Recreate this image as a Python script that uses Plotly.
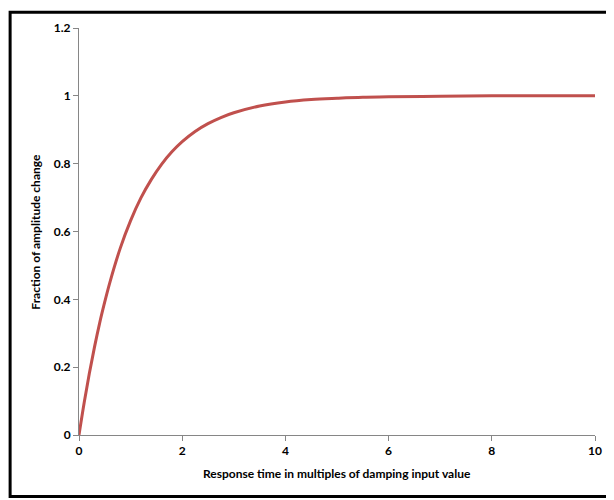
import plotly.graph_objects as go

# response time (multiples of damping input) vs fraction of amplitude change
response_time = [0, 0.1, 0.2, 0.3, 0.4, 0.5, 0.6, 0.8, 1.0, 1.2, 1.4, 1.6, 1.8, 2.0,
                 2.25, 2.5, 2.75, 3.0, 3.5, 4.0, 4.5, 5.0, 5.5, 6.0, 7.0, 8.0, 9.0, 10.0]
amplitude_fraction = [0, 0.095, 0.181, 0.259, 0.33, 0.393, 0.451, 0.551, 0.632, 0.699, 0.753,
                      0.798, 0.835, 0.865, 0.895, 0.918, 0.936, 0.95, 0.97, 0.982, 0.989,
                      0.993, 0.996, 0.997, 0.999, 1.0, 1.0, 1.0]

x_ticks = [0, 2, 4, 6, 8, 10]
y_ticks = [0, 0.2, 0.4, 0.6, 0.8, 1, 1.2]
y_tick_text = ["0", "0.2", "0.4", "0.6", "0.8", "1", "1.2"]

font = "Lato"

fig = go.Figure()
fig.add_trace(go.Scatter(x=response_time, y=amplitude_fraction, mode="lines",
                         line=dict(color="#C0504D", width=3, shape="spline"),
                         hoverinfo="skip", showlegend=False))

axis_common = dict(showgrid=False, zeroline=False, showline=True, linecolor="#868686",
                   linewidth=1, ticks="outside", ticklen=5, tickcolor="#868686",
                   tickfont=dict(family=font, size=12, color="black", weight="bold"))

# outer frame: left, top and bottom edges only (right edge is cut off in the original)
frame = dict(color="black", width=3)
x_left, x_right, y_bottom, y_top = -0.1335, 1.2, -0.151, 1.039

# page body adds an 8px offset, so the figure is 8px smaller on each side
fig.update_layout(
    width=606, height=492,
    margin=dict(l=71, r=18, t=17, b=65),
    paper_bgcolor="white", plot_bgcolor="white",
    xaxis=dict(range=[0, 10], tickvals=x_ticks, **axis_common),
    yaxis=dict(range=[0, 1.2], tickvals=y_ticks, ticktext=y_tick_text, **axis_common),
    shapes=[
        dict(type="path", xref="paper", yref="paper", line=frame,
             path=f"M {x_right},{y_top} L {x_left},{y_top} L {x_left},{y_bottom} L {x_right},{y_bottom}"),
    ],
    annotations=[
        dict(text="Response time in multiples of damping input value", xref="paper", yref="paper",
             x=0.5, y=-0.095, showarrow=False, yanchor="middle",
             font=dict(family=font, size=12, color="black", weight="bold")),
        dict(text="Fraction of amplitude change", xref="paper", yref="paper",
             x=-0.085, y=0.5, showarrow=False, textangle=-90, xanchor="center",
             font=dict(family=font, size=12, color="black", weight="bold")),
    ],
)

fig.write_html("out.html")
